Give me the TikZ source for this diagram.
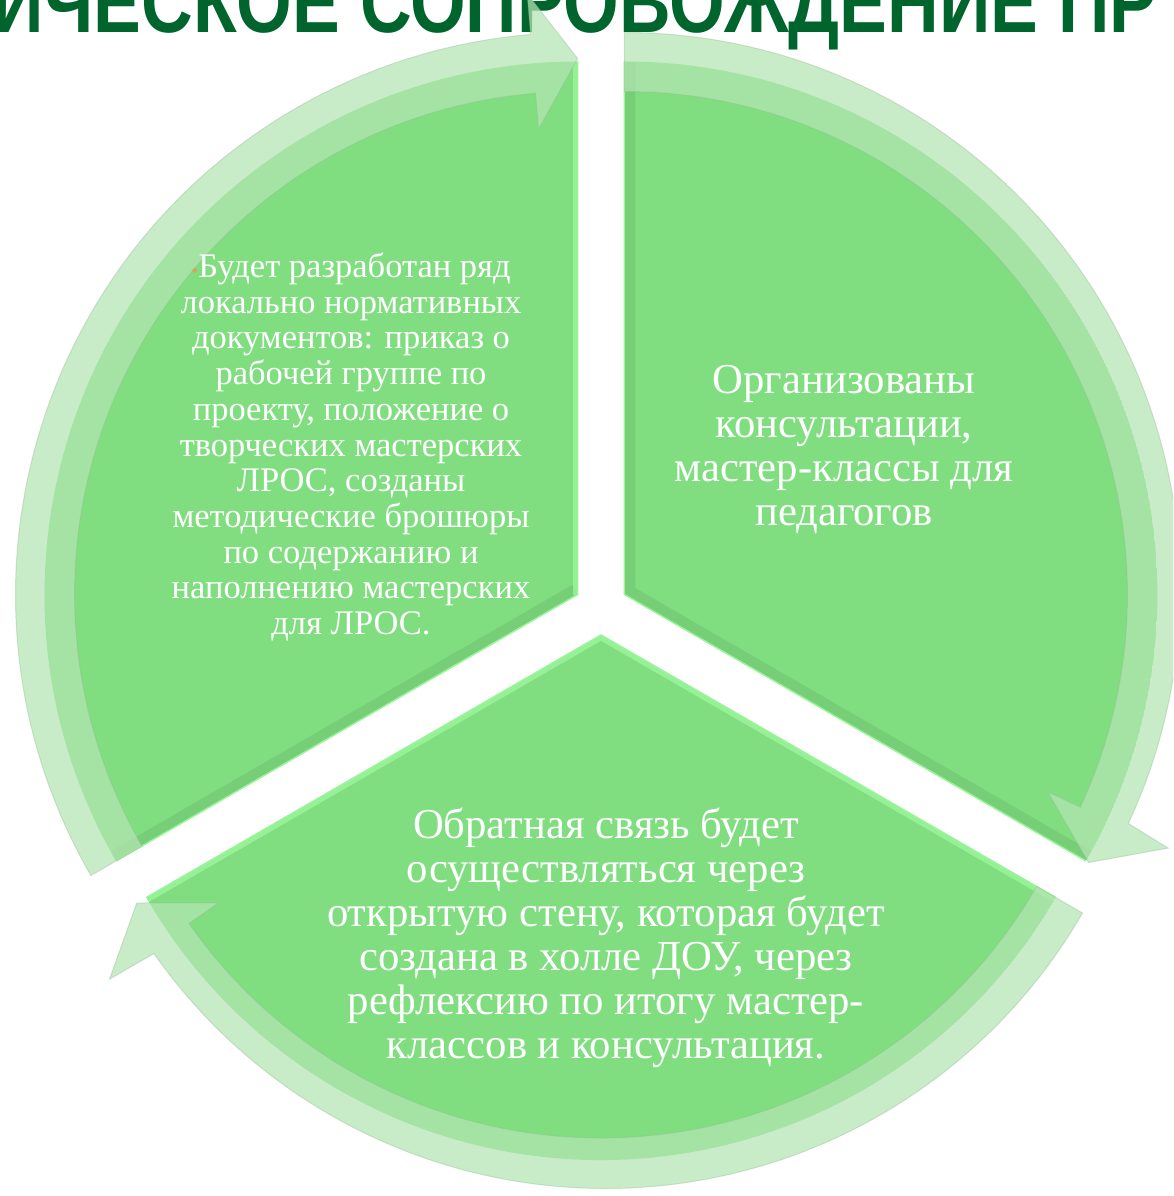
\documentclass[tikz,border=0pt]{standalone}
\usepackage{fontspec}
\usepackage{graphicx}
\setmainfont{Liberation Serif}
\newfontfamily\titlefont{Liberation Sans}
\usetikzlibrary{calc}
\definecolor{wedgegreen}{RGB}{128,222,128}
\definecolor{arrowgreen}{RGB}{179,229,179}
\definecolor{titlegreen}{RGB}{0,100,45}
\definecolor{brightgreen}{RGB}{165,255,165}
\definecolor{bulletc}{RGB}{212,168,90}
\tikzset{
  wedgefill/.style={fill=wedgegreen},
  ringarrow/.style={fill=arrowgreen, fill opacity=0.72, draw=arrowgreen!80!black, draw opacity=0.35, line width=1pt},
  brightedge/.style={draw=brightgreen, line width=10pt, draw opacity=0.6},
  darkedge/.style={draw=black, line width=22pt, draw opacity=0.07},
  thinedge/.style={draw=brightgreen!70!wedgegreen, line width=1.5pt},
  seglabel/.style={text=white, align=center, inner sep=0pt,
    font={\fontsize{42.7}{44}\selectfont\lineskiplimit=-50pt}},
  leftlabel/.style={text=white, align=center, inner sep=0pt,
    font={\fontsize{34.5}{35.7}\selectfont\lineskiplimit=-50pt}},
  titletext/.style={text=titlegreen, inner sep=0pt, font={\titlefont\bfseries\fontsize{88}{88}\selectfont}},
}
\begin{document}
\begin{tikzpicture}[x=1pt,y=1pt]
\useasboundingbox (0,0) rectangle (1173,-1196);
\clip (0,0) rectangle (1173,-1196);
\fill[white] (0,0) rectangle (1173,-1196);

% title (cropped at the top of the picture)
\node[titletext, anchor=base west] (title) at (-8,-33) {\scalebox{0.813}[1]{ИЧЕСКОЕ СОПРОВОЖДЕНИЕ ПР}};

% wedge tips
\coordinate (TR) at (624.4,-594.5);
\coordinate (TL) at (577.6,-594.5);
\coordinate (TB) at (601,-635);

% ---- wedges ----
% right wedge
\begin{scope}
  \clip (TR) -- ($(TR)+(90:533)$) arc[start angle=90,end angle=-30,radius=533] -- cycle;
  \fill[wedgefill] (TR) -- ($(TR)+(90:533)$) arc[start angle=90,end angle=-30,radius=533] -- cycle;
  \draw[darkedge] ($(TR)+(90:540)$) -- (TR) -- ($(TR)+(-30:540)$);
\end{scope}
\draw[thinedge] ($(TR)+(90:533)$) -- (TR) -- ($(TR)+(-30:533)$);
% left wedge
\begin{scope}
  \clip (TL) -- ($(TL)+(210:533)$) arc[start angle=210,end angle=90,radius=533] -- cycle;
  \fill[wedgefill] (TL) -- ($(TL)+(210:533)$) arc[start angle=210,end angle=90,radius=533] -- cycle;
  \draw[darkedge] ($(TL)+(210:540)$) -- (TL);
  \draw[brightedge] ($(TL)+(90:540)$) -- (TL);
\end{scope}
\draw[thinedge] ($(TL)+(90:533)$) -- (TL) -- ($(TL)+(210:533)$);
% bottom wedge
\begin{scope}
  \clip (TB) -- ($(TB)+(330:525)$) arc[start angle=330,end angle=210,radius=525] -- cycle;
  \fill[wedgefill] (TB) -- ($(TB)+(330:525)$) arc[start angle=330,end angle=210,radius=525] -- cycle;
  \draw[brightedge] ($(TB)+(210:540)$) -- (TB) -- ($(TB)+(330:540)$);
\end{scope}
\draw[thinedge] ($(TB)+(210:525)$) -- (TB) -- ($(TB)+(330:525)$);

% ---- circular arrows ----
\path[ringarrow] ($(TR)+(90:562)$) arc[start angle=90,end angle=-25,radius=556]
  -- ($(TR)+(-25:600)$) -- ($(TR)+(-30:536)$) -- ($(TR)+(-25:467)$) -- ($(TR)+(-25:503)$)
  arc[start angle=-25,end angle=90,radius=503] -- cycle;
\path[ringarrow] ($(TL)+(210:562)$) arc[start angle=210,end angle=94.8,radius=562]
  -- ($(TL)+(94.8:603)$) -- ($(TL)+(90:536)$) -- ($(TL)+(94.8:467)$) -- ($(TL)+(94.8:503)$)
  arc[start angle=94.8,end angle=210,radius=503] -- cycle;
\path[ringarrow] ($(TB)+(330:556)$) arc[start angle=330,end angle=215,radius=551]
  -- ($(TB)+(215:600)$) -- ($(TB)+(210:536)$) -- ($(TB)+(215:467)$) -- ($(TB)+(215:503)$)
  arc[start angle=215,end angle=330,radius=503] -- cycle;

% ---- texts ----
\node[leftlabel] (lefttext) at (351,-447) {{\color{bulletc}\fontsize{20}{20}\selectfont•}Будет разработан ряд\\локально нормативных\\документов: приказ о\\рабочей группе по\\проекту, положение о\\творческих мастерских\\ЛРОС, созданы\\методические брошюры\\по содержанию и\\наполнению мастерских\\для ЛРОС.};
\node[seglabel] (righttext) at (844,-449) {Организованы\\консультации,\\мастер-классы для\\педагогов};
\node[seglabel] (bottomtext) at (606,-938) {Обратная связь будет\\осуществляться через\\открытую стену, которая будет\\создана в холле ДОУ, через\\рефлексию по итогу мастер-\\классов и консультация.};
\end{tikzpicture}
\end{document}
